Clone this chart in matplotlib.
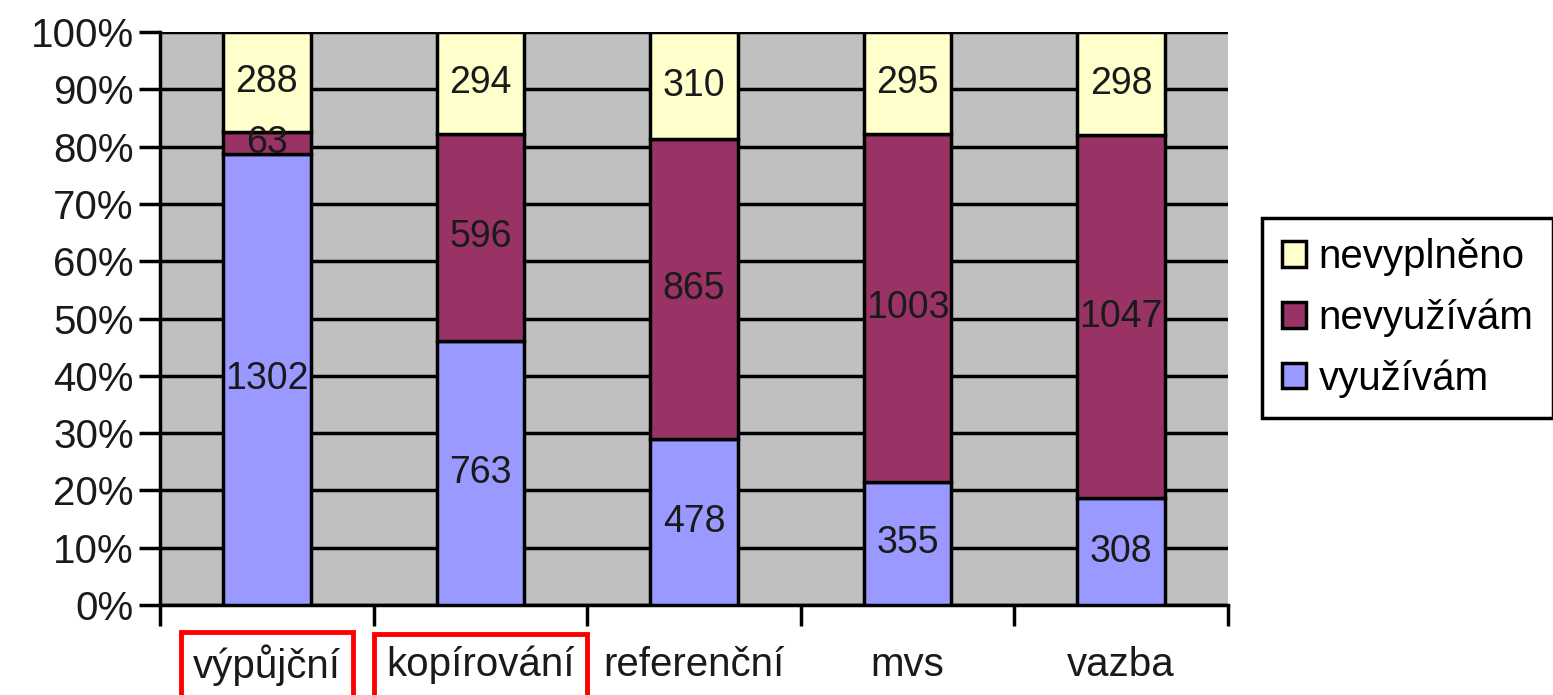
import matplotlib.pyplot as plt
import numpy as np

plt.rcParams['font.family'] = ['Liberation Sans', 'DejaVu Sans']

categories = ['výpůjční', 'kopírování', 'referenční', 'mvs', 'vazba']
vyuzivam = [1302, 763, 478, 355, 308]
nevyuzivam = [63, 596, 865, 1003, 1047]
nevyplneno = [288, 294, 310, 295, 298]
boxed = ['výpůjční', 'kopírování']

series = [('využívám', vyuzivam, '#9999FF'),
          ('nevyužívám', nevyuzivam, '#993366'),
          ('nevyplněno', nevyplneno, '#FFFFCC')]

totals = np.array(vyuzivam) + np.array(nevyuzivam) + np.array(nevyplneno)

fig = plt.figure(figsize=(15.53, 6.95), dpi=100)
ax = fig.add_axes([160/1553, 1-605/695, (1228-160)/1553, (605-32)/695])
ax.set_facecolor('#C0C0C0')

x = np.arange(len(categories))
bottom = np.zeros(len(categories))
handles = []
for name, vals, col in series:
    pct = np.array(vals) / totals * 100
    bars = ax.bar(x, pct, 0.41, bottom=bottom, color=col, edgecolor='black',
                  linewidth=2.5, zorder=3, label=name)
    for xi, b, p, v in zip(x, bottom, pct, vals):
        ax.text(xi, b + p / 2, str(v), ha='center', va='center', fontsize=27,
                color='#1a1a1a', zorder=4)
    bottom += pct
    handles.append(bars)

ax.set_xlim(-0.5, len(categories) - 0.5)
ax.set_ylim(0, 100)
ax.set_yticks(np.arange(0, 101, 10))
ax.set_yticklabels([f'{v}%' for v in range(0, 101, 10)], fontsize=29,
                   color='#1a1a1a')
ax.yaxis.grid(True, color='black', linewidth=2.5, zorder=1)
ax.set_axisbelow(True)

ax.set_xticks(np.arange(-0.5, len(categories), 1))
ax.set_xticklabels([])
ax.tick_params(axis='x', length=15, width=2.5, direction='out')
ax.tick_params(axis='y', length=15, width=2.5, direction='out', pad=4)
for s in ['top', 'right']:
    ax.spines[s].set_visible(False)
for s in ['left', 'bottom']:
    ax.spines[s].set_linewidth(2.5)

for xi, lab in zip(x, categories):
    t = ax.text(xi, -0.105, lab, transform=ax.get_xaxis_transform(),
                ha='center', va='center', fontsize=29, color='#1a1a1a')
    if lab in boxed:
        t.set_bbox(dict(boxstyle='square,pad=0.3', facecolor='none',
                        edgecolor='red', linewidth=3.5))

leg = fig.legend(handles[::-1], [s[0] for s in series][::-1],
                 loc='center left', bbox_to_anchor=(1262/1553, 1-318/695),
                 fontsize=29, frameon=True, fancybox=False, edgecolor='black',
                 framealpha=1, handlelength=0.6, handleheight=0.6,
                 handletextpad=0.3, labelspacing=0.55, borderpad=0.5,
                 borderaxespad=0)
leg.get_frame().set_linewidth(2.5)

fig.savefig('out.png', dpi=100)
